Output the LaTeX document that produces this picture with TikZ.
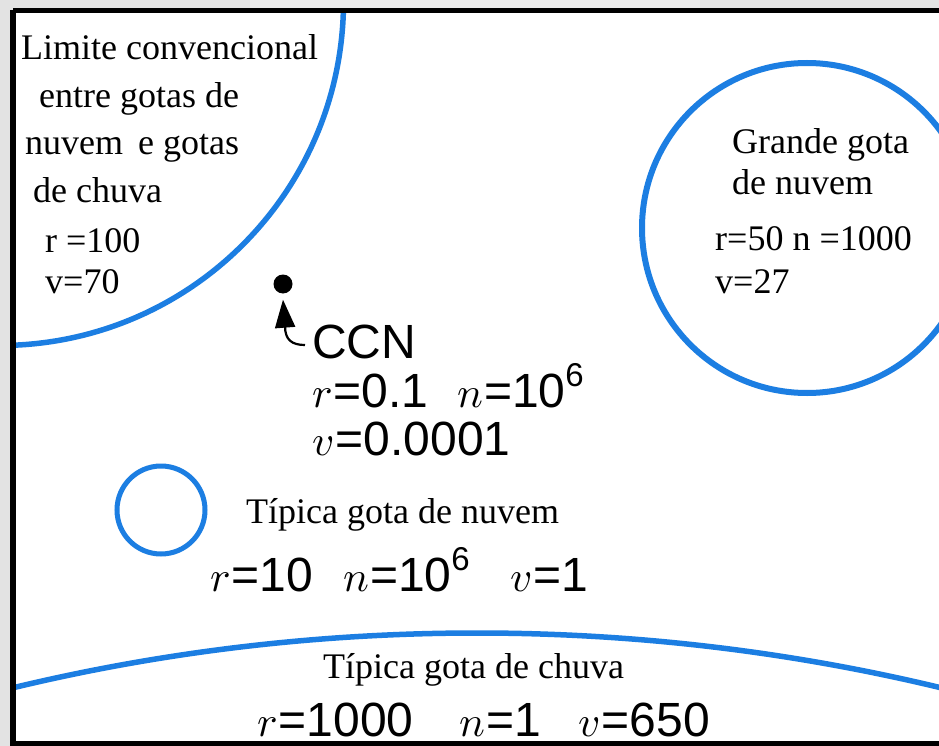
\documentclass[tikz,border=0pt]{standalone}
\usepackage{fontspec}
\usepackage{graphicx}
\setmainfont{Liberation Serif}
\newfontfamily\arialf{Liberation Sans}
\usetikzlibrary{arrows.meta}
\definecolor{dropblue}{RGB}{28,126,226}
\newcommand\supsix{\raisebox{0.42em}{\fontsize{33}{33}\selectfont 6}}
\newcommand\mv[1]{\scalebox{4.3}{\normalsize\(#1\)}\hspace{1pt}}
\begin{document}
\begin{tikzpicture}[x=1pt,y=-1pt,
  lbl/.style={font=\fontsize{36}{40}\selectfont, anchor=base west, inner sep=0pt},
  frm/.style={font=\arialf\fontsize{48}{50}\selectfont, anchor=base west, inner sep=0pt},
  drop/.style={draw=dropblue, line width=5.5pt},
  arr/.style={line width=2.2pt, -{Triangle[length=28pt,width=20pt]}}]
\useasboundingbox (0,0) rectangle (939,746);
\fill[gray!22] (0,0) rectangle (939,746);
\fill[white!85!gray, opacity=0.9] (250,0) rectangle (700,9);
\fill[white] (13,10.5) rectangle (945,744);
% drops
\begin{scope}
\clip (13,10.5) rectangle (939,744);
\draw[drop] (-0.5,1.5) circle[radius=344];
\draw[drop, line width=6pt] (807,228) circle[radius=165];
\draw[drop] (477,2609) circle[radius=1976];
\end{scope}
\draw[drop, line width=5pt] (161,510) circle[radius=44];
% frame
\draw[line width=5.5pt] (13,10.5) -- (13,744) -- (945,744);
\draw[line width=5.5pt] (13,10.5) -- (945,10.5);
% top-left labels
\node[lbl] (l1) at (21,60) {Limite convencional};
\node[lbl] (l2) at (39,108) {entre gotas de};
\node[lbl] (l3) at (25,155) {nuvem\, e gotas};
\node[lbl] (l4) at (33,202) {de chuva};
\node[lbl] (l5) at (45,252) {r =100};
\node[lbl] (l6) at (45,293) {v=70};
% right circle labels
\node[lbl] (g1) at (732,154) {Grande gota};
\node[lbl] (g2) at (732,194) {de nuvem};
\node[lbl] (g3) at (715,250) {r=50 n =1000};
\node[lbl] (g4) at (715,293) {v=27};
% CCN
\node[circle, fill=black, inner sep=0pt, minimum size=19pt] (dot) at (283,284) {};
\node[frm] (ccn) at (312,358) {CCN};
\node[frm] (ccn1a) at (312,407) {\mv{r}=0.1};
\node[frm] (ccn1b) at (457,407) {\mv{n}=10\supsix};
\node[frm] (ccn2) at (312,455) {\mv{v}=0.0001};
\coordinate (tail) at (305,345);
\draw[arr] (tail) .. controls (292,345) and (285,340) .. (285,326) -- ([yshift=-6pt]dot.south);
% typical cloud drop
\node[lbl] (t1) at (246,523) {Típica gota de nuvem};
\node[frm] (t2a) at (210,591) {\mv{r}=10};
\node[frm] (t2b) at (343,591) {\mv{n}=10\supsix};
\node[frm] (t2c) at (510,591) {\mv{v}=1};
% typical rain drop
\node[lbl] (c1) at (323,678) {Típica gota de chuva};
\node[frm] (c2a) at (257,736) {\mv{r}=1000};
\node[frm] (c2b) at (459,736) {\mv{n}=1};
\node[frm] (c2c) at (578,736) {\mv{v}=650};
\end{tikzpicture}
\end{document}
